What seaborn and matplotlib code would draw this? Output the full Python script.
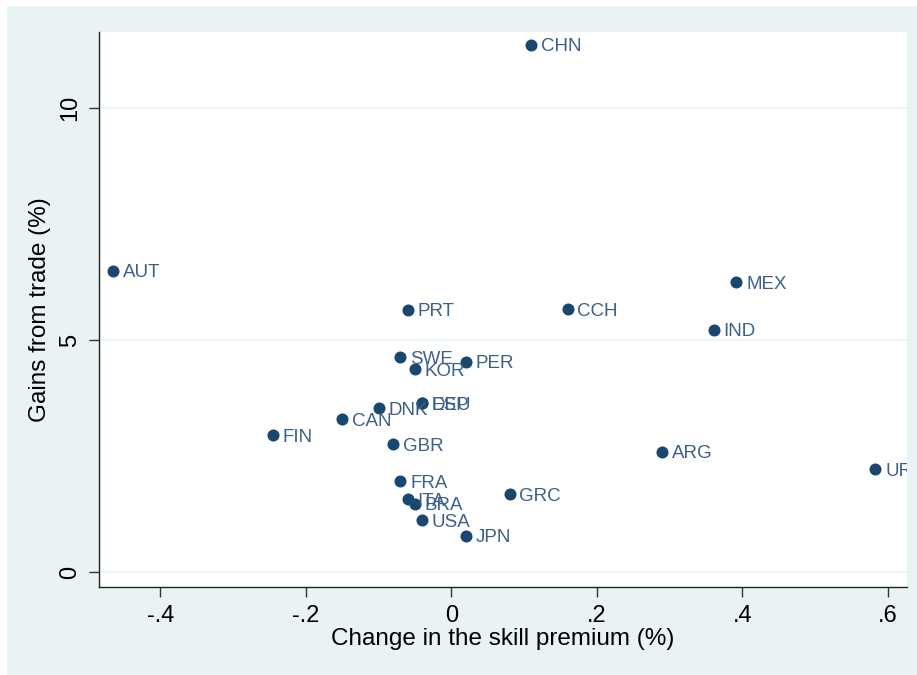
import matplotlib
matplotlib.use("Agg")
import matplotlib.pyplot as plt
import seaborn as sns
import pandas as pd
from matplotlib.patches import Rectangle

countries = ["CHN", "AUT", "MEX", "PRT", "CCH", "IND", "SWE", "PER", "KOR",
             "ESP", "DEU", "DNK", "CAN", "FIN", "GBR", "ARG", "URY", "FRA",
             "GRC", "ITA", "BRA", "USA", "JPN"]
skill_premium = [0.11, -0.465, 0.392, -0.06, 0.16, 0.361, -0.07, 0.02, -0.05,
                 -0.04, -0.04, -0.10, -0.15, -0.245, -0.08, 0.29, 0.583, -0.07,
                 0.08, -0.06, -0.05, -0.04, 0.02]
gains = [11.36, 6.49, 6.25, 5.65, 5.67, 5.22, 4.63, 4.53, 4.37,
         3.64, 3.64, 3.53, 3.30, 2.95, 2.76, 2.59, 2.22, 1.96,
         1.68, 1.57, 1.47, 1.12, 0.78]
x_ticks = [-0.4, -0.2, 0, 0.2, 0.4, 0.6]
x_tick_labels = ["-.4", "-.2", "0", ".2", ".4", ".6"]
y_ticks = [0, 5, 10]
y_tick_labels = ["0", "5", "10"]

df = pd.DataFrame({"country": countries, "dskill": skill_premium, "gains": gains})

sns.set_theme(style="white")
plt.rcParams["font.family"] = ["Liberation Sans", "DejaVu Sans"]

W, H = 917, 675
fig = plt.figure(figsize=(W / 100, H / 100), dpi=100, facecolor="white")
bg = "#eaf3f4"
fig.patches.append(Rectangle((7 / W, 0), 1 - 7 / W, 1 - 6 / H,
                             transform=fig.transFigure, facecolor=bg,
                             edgecolor="none", zorder=-5))

left, right, top, bottom = 99, 907, 32, 587
ax = fig.add_axes([left / W, 1 - bottom / H, (right - left) / W, (bottom - top) / H])
ax.set_zorder(5)
ax.set_facecolor("white")

navy = "#1a476f"
sns.scatterplot(data=df, x="dskill", y="gains", ax=ax, color=navy, s=75,
                edgecolor=navy, linewidth=0, zorder=3, clip_on=False)

for c, xv, yv in zip(countries, skill_premium, gains):
    ax.annotate(c, (xv, yv), xytext=(7, 0), textcoords="offset points",
                va="center_baseline", ha="left", fontsize=13.5, color="#3d6089",
                zorder=4, annotation_clip=False, clip_on=True)

ax.set_xlim(-0.4845, 0.6265)
ax.set_ylim(-0.32, 11.64)
ax.set_xticks(x_ticks)
ax.set_xticklabels(x_tick_labels)
ax.set_yticks(y_ticks)
ax.set_yticklabels(y_tick_labels, rotation=90, va="center")
ax.tick_params(axis="both", direction="out", length=7, width=1, color="#333333",
               labelsize=17, labelcolor="black", pad=6,
               bottom=True, left=True)

for y in y_ticks:
    ax.axhline(y, color=bg, lw=1.2, zorder=1)

for s in ["top", "right"]:
    ax.spines[s].set_visible(False)
for s in ["left", "bottom"]:
    ax.spines[s].set_color("#222222")
    ax.spines[s].set_linewidth(1)

ax.set_xlabel("Change in the skill premium (%)", fontsize=17.5, color="black", labelpad=1)
ax.set_ylabel("Gains from trade (%)", fontsize=17.5, color="black", labelpad=6)

fig.savefig("out.png", dpi=100, facecolor="white")
